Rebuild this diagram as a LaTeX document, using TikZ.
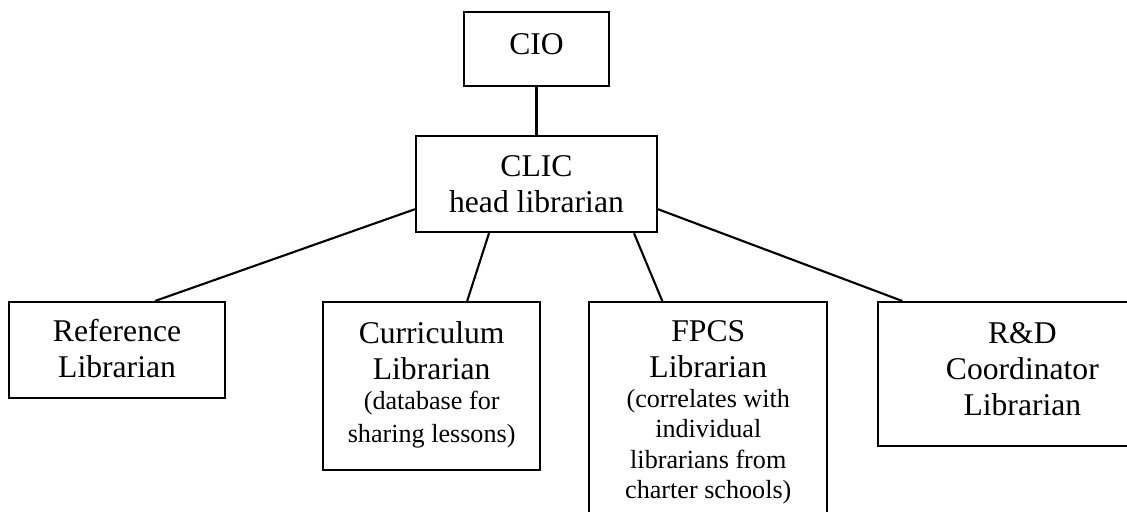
\documentclass[tikz,border=0pt]{standalone}
\usepackage{fontspec}
\setmainfont{Liberation Serif}
\usepackage{tikz}
\usetikzlibrary{positioning,calc}
\newcommand{\boxfont}{\fontsize{22.5}{25.6}\selectfont}
\newcommand{\notefont}{\fontsize{18.6}{21.6}\selectfont}

\begin{document}
\begin{tikzpicture}[
  box/.style={draw,line width=1.5pt,align=flush center,inner xsep=0pt,inner ysep=0pt,font=\boxfont},
  link/.style={line width=1.5pt}]
\useasboundingbox (0,0) rectangle (28.175,-12.8);
\clip (0,0) rectangle (28.175,-12.8);
\node[box,anchor=north,text width=3.625cm,text height=1.05cm,text depth=0.8cm] (cio) at (13.4125,-0.275) {CIO};
\node[box,below=1.2cm of cio,text width=6.025cm,text height=1cm,text depth=1.4cm] (clic) {CLIC\\head librarian};
\node[box,anchor=north west,text width=5.4cm,text height=0.975cm,text depth=1.425cm] (ref) at (0.2,-7.525) {Reference\\Librarian};
\node[box,right=2.4cm of ref.north east,anchor=north west,text width=5.425cm,text height=1.025cm,text depth=3.175cm] (curr) {Curriculum\\Librarian\\\notefont(database for\\[0.075cm]sharing lessons)\par};
\node[box,right=1.175cm of curr.north east,anchor=north west,text width=5.95cm,text height=0.975cm,text depth=4.775cm] (fpcs) {FPCS\\Librarian\\\notefont(correlates with\\individual\\librarians from\\charter schools)\par};
\node[box,right=1.225cm of fpcs.north east,anchor=north west,text width=7.2cm,text height=1.025cm,text depth=2.575cm] (rd) {R\&D\\Coordinator\\Librarian};
\draw[link] (cio) -- (clic);
\draw[link] ($(clic.south west)+(0,0.6)$) -- ([xshift=0.95cm]ref.north);
\draw[link] ([xshift=-1.1875cm]clic.south) -- ([xshift=0.8875cm]curr.north);
\draw[link] ([xshift=2.4375cm]clic.south) -- ([xshift=-1.15cm]fpcs.north);
\draw[link] ($(clic.south east)+(0,0.6)$) -- ([xshift=0.625cm]rd.north west);
\end{tikzpicture}
\end{document}
